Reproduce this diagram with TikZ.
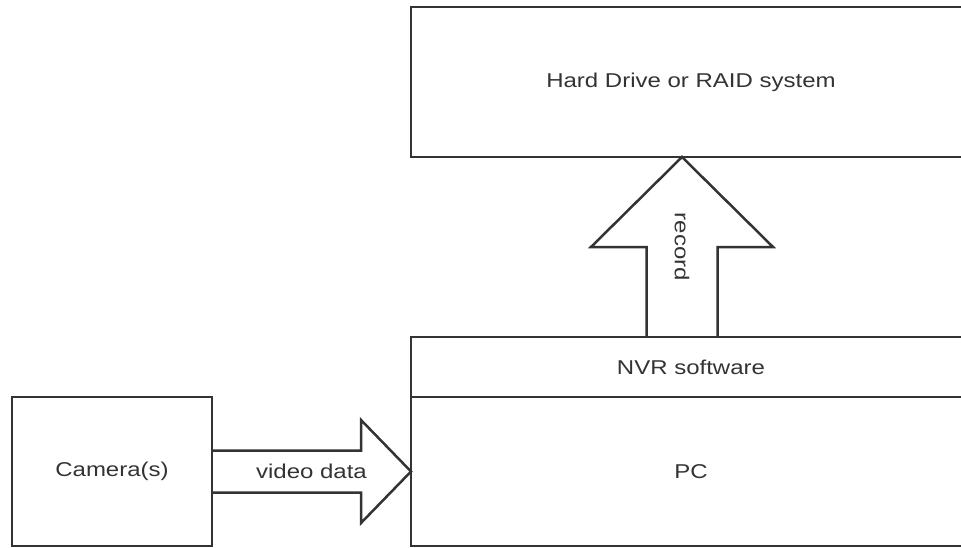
\documentclass[tikz,border=0pt]{standalone}
\usepackage{fontspec}
\setmainfont[FakeStretch=1.2]{Liberation Sans}
\usetikzlibrary{positioning,calc}
\definecolor{linegray}{HTML}{333333}
\tikzset{
  box/.style={draw=linegray, line width=2.5pt, outer sep=0pt, inner sep=0pt,
    minimum width=560pt, text=linegray, font=\fontsize{20}{24}\selectfont},
  blockarrow/.style={draw=linegray, line width=2.5pt},
  lbl/.style={text=linegray, font=\fontsize{20}{24}\selectfont, inner sep=0pt}
}
\begin{document}
\begin{tikzpicture}[x=1pt,y=-1pt]
  \useasboundingbox (0,0) rectangle (961,548);
  \clip (0,0) rectangle (961,548);
  \node[box, minimum height=150pt] (hdd) at (691,82) {Hard Drive or RAID system};
  \node[box, minimum height=60pt] (nvr) at (691,367) {NVR software};
  \node[box, minimum height=149pt, below=0pt of nvr] (pc) {PC};
  \node[box, minimum width=200pt, minimum height=149pt, left=199pt of pc] (cam) {Camera(s)};
  % video data arrow
  \draw[blockarrow] ($(cam.east)+(0,-21)$) -- ($(pc.west)+(-50,-21)$) -- ($(pc.west)+(-50,-51.5)$)
    -- (pc.west) -- ($(pc.west)+(-50,51.5)$) -- ($(pc.west)+(-50,21)$) -- ($(cam.east)+(0,21)$);
  \node[lbl] (vidlbl) at ($(cam.east)!0.5!(pc.west)$) {video data};
  % record arrow
  \coordinate (recbase) at ($(nvr.north)+(-9,0)$);
  \coordinate (rectip) at ($(hdd.south)+(-9,0)$);
  \draw[blockarrow] ($(recbase)+(-35.5,0)$) -- ($(rectip)+(-35.5,90)$) -- ($(rectip)+(-91,90)$)
    -- (rectip) -- ($(rectip)+(91,90)$) -- ($(rectip)+(35.5,90)$) -- ($(recbase)+(35.5,0)$);
  \node[lbl, rotate=-90] (reclbl) at ($(recbase)!0.5!(rectip)$) {record};
\end{tikzpicture}
\end{document}
